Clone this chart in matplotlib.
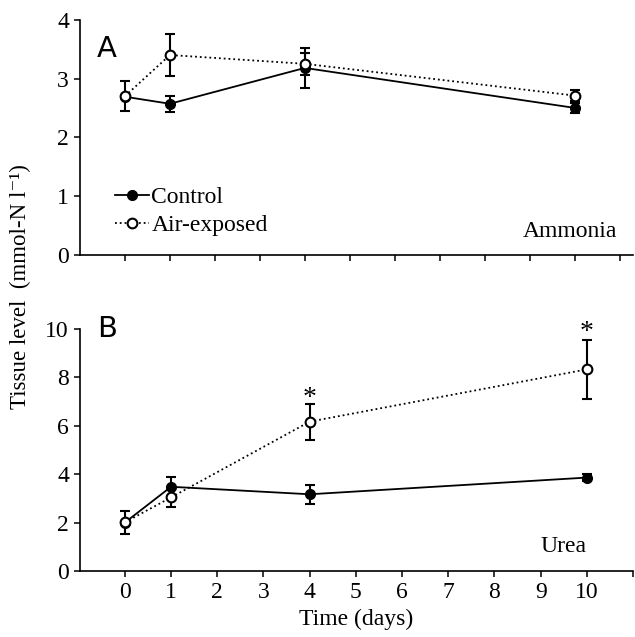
import matplotlib
matplotlib.use("Agg")
import matplotlib.pyplot as plt
from matplotlib.lines import Line2D

days = [0, 1, 4, 10]

# ammonia (panel A)
amm_ctrl = [2.69, 2.57, 3.18, 2.50]
amm_ctrl_err = [0.0, 0.14, 0.34, 0.09]
amm_air = [2.70, 3.40, 3.25, 2.71]
amm_air_err = [0.25, 0.36, 0.19, 0.10]

# urea (panel B)
urea_ctrl = [2.0, 3.48, 3.17, 3.86]
urea_ctrl_err = [0.0, 0.40, 0.40, 0.15]
urea_air = [2.01, 3.04, 6.17, 8.33]
urea_air_err = [0.48, 0.41, 0.75, 1.21]
star_days = [4, 10]
star_y = [6.62, 9.34]

tick_pos = list(range(0, 12))
tick_labels = [str(i) for i in range(0, 11)] + [""]

plt.rcParams['font.family'] = ['Liberation Serif', 'DejaVu Serif']
plt.rcParams['font.size'] = 17

fig = plt.figure(figsize=(6.35, 6.37), dpi=100)
axA = fig.add_axes([0.126, 0.600, 0.871, 0.369])
axB = fig.add_axes([0.126, 0.1036, 0.871, 0.380])


def draw(ax, ctrl, ctrl_err, air, air_err):
    ax.errorbar(days, air, yerr=air_err, color='black', ls=':', lw=1.3,
                marker='o', ms=7, mfc='white', mec='black', mew=1.5,
                capsize=3.5, elinewidth=1.5, capthick=1.5, zorder=3)
    ax.errorbar(days, ctrl, yerr=ctrl_err, color='black', ls='-', lw=1.3,
                marker='o', ms=7, mfc='black', mec='black',
                capsize=3.5, elinewidth=1.5, capthick=1.5, zorder=2)
    for s in ['top', 'right']:
        ax.spines[s].set_visible(False)
    for s in ['left', 'bottom']:
        ax.spines[s].set_linewidth(1.2)
    ax.set_xticks(tick_pos)
    ax.tick_params(direction='out', length=4, width=1.1, pad=4, labelsize=17)


draw(axA, amm_ctrl, amm_ctrl_err, amm_air, amm_air_err)
axA.set_xlim(-1.0, 11.3)
axA.set_ylim(0, 4)
axA.set_yticks([0, 1, 2, 3, 4])
axA.set_xticklabels([])
axA.text(-0.62, 3.5, 'A', family='DejaVu Sans', fontsize=21, va='center')
axA.text(10.95, 0.4, 'Ammonia', ha='right', va='center', fontsize=17)
handles = [Line2D([], [], color='black', ls='-', lw=1.3, marker='o', ms=7, mfc='black'),
           Line2D([], [], color='black', ls=':', lw=1.3, marker='o', ms=7, mfc='white', mew=1.5)]
axA.legend(handles, ['Control', 'Air-exposed'], loc='lower left', bbox_to_anchor=(0.033, 0.01),
           frameon=False, handlelength=1.45, handletextpad=0.1, labelspacing=0.25,
           borderpad=0.2, fontsize=17)

draw(axB, urea_ctrl, urea_ctrl_err, urea_air, urea_air_err)
axB.set_xlim(-0.97, 11.0)
axB.set_ylim(0, 10)
axB.set_yticks([0, 2, 4, 6, 8, 10])
axB.set_xticklabels(tick_labels)
axB.set_xlabel('Time (days)', fontsize=17, labelpad=4)
axB.text(-0.6, 10.0, 'B', family='DejaVu Sans', fontsize=21, va='center')
axB.text(10.0, 1.0, 'Urea', ha='right', va='center', fontsize=17)
for d, y in zip(star_days, star_y):
    axB.text(d, y, '*', ha='center', va='bottom', fontsize=20)

fig.text(0.032, 0.55, 'Tissue level  (mmol-N l⁻¹)', rotation=90,
         ha='center', va='center', fontsize=16.5)

fig.savefig('out.png', dpi=100)
